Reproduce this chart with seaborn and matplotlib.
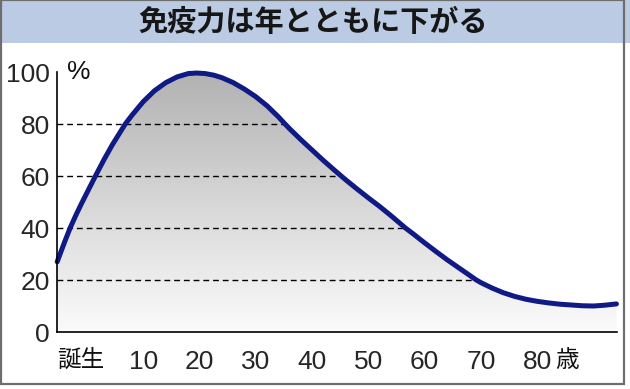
import numpy as np
import seaborn as sns
import matplotlib.pyplot as plt
from matplotlib import font_manager
from matplotlib.colors import LinearSegmentedColormap
from matplotlib.patches import Rectangle

# data (age in years, immunity in %)
ages = [-5.3, -4.0, -3.0, -2.0, -1.0, 0.0, 1.5, 3.0, 4.5, 6.8, 8.0, 10.0,
        12.0, 14.0, 16.0, 18.0, 19.5, 21.0, 22.5, 24.0, 26.0, 28.0, 30.0,
        32.0, 34.0, 35.2, 36.0, 38.0, 40.0, 42.0, 44.0, 46.0, 48.0, 50.0,
        52.0, 54.0, 56.6, 58.0, 60.0, 62.0, 64.0, 66.0, 68.0, 69.2, 70.0,
        72.0, 74.0, 76.0, 78.0, 80.0, 82.0, 84.0, 86.0, 88.0, 90.0, 92.0, 94.1]
immunity = [27.0, 34.5, 40.0, 44.8, 49.3, 53.6, 60.0, 66.2, 72.0, 80.0, 83.4, 88.6,
            92.8, 95.9, 98.1, 99.4, 99.6, 99.4, 98.8, 97.8, 95.9, 93.4, 90.5,
            87.0, 82.8, 80.0, 78.2, 74.0, 70.0, 66.0, 62.2, 58.5, 55.0, 51.6,
            48.3, 44.8, 40.0, 37.7, 34.3, 31.0, 27.8, 24.8, 21.8, 20.0, 19.0,
            16.9, 15.1, 13.7, 12.6, 11.8, 11.2, 10.7, 10.4, 10.1, 10.0, 10.3, 10.8]
x_ticks = [10, 20, 30, 40, 50, 60, 70, 80]
y_ticks = [0, 20, 40, 60, 80, 100]
grid_levels = [20, 40, 60, 80]
grid_ends = [69.2, 56.6, 45.3, 35.2]   # where each dashed line meets the curve
title = '免疫力は年とともに下がる'

sns.set_theme(style='white')
names = {f.name for f in font_manager.fontManager.ttflist}
num_font = 'Liberation Sans Narrow' if 'Liberation Sans Narrow' in names else 'Liberation Sans'
plt.rcParams['font.family'] = [num_font, 'Noto Sans CJK JP', 'DejaVu Sans']
jp = ['Noto Sans CJK JP', 'DejaVu Sans']

fig = plt.figure(figsize=(6.3, 3.89), dpi=100)
fig.patch.set_facecolor('white')

# title band and frame
fig.patches.append(Rectangle((0, 1 - 43 / 389), 1, 43 / 389, transform=fig.transFigure,
                             facecolor='#bccbe4', edgecolor='none', zorder=0))
fig.patches.append(Rectangle((1 / 630, 5 / 389), 623 / 630, 384 / 389, transform=fig.transFigure,
                             facecolor='none', edgecolor='#6e6e6e', lw=1.6, zorder=5))
fig.text(0.497, 1 - 22 / 389, title, ha='center', va='center', fontsize=21,
         family=jp, weight='bold', color='#161616')

xmin, xmax = -5.33, 94.2
ax = fig.add_axes([57 / 630, 57 / 389, 560 / 630, 260 / 389])
ax.set_facecolor('none')

# gradient fill under the curve
cmap = LinearSegmentedColormap.from_list('g', ['#fbfbfb', '#b2b2b2'])
grad = np.linspace(0, 1, 256).reshape(-1, 1)
im = ax.imshow(grad, extent=[xmin, xmax, 0, 100], origin='lower', cmap=cmap,
               aspect='auto', zorder=1)
poly = ax.fill_between(ages, immunity, 0, color='none', lw=0)
im.set_clip_path(poly.get_paths()[0], transform=ax.transData)

# dashed level lines
ax.hlines(grid_levels, xmin, grid_ends, colors='black', lw=1,
          linestyles=(0, (4.2, 2.8)), zorder=2)

sns.lineplot(x=ages, y=immunity, ax=ax, color='#101a84', lw=3.6, zorder=3)
ax.lines[-1].set_clip_on(False)
ax.lines[-1].set_solid_joinstyle('round')

ax.set_xlim(xmin, xmax)
ax.set_ylim(0, 100)
for s in ['top', 'right']:
    ax.spines[s].set_visible(False)
for s in ['left', 'bottom']:
    ax.spines[s].set_color('black')
    ax.spines[s].set_linewidth(1.2)
    ax.spines[s].set_zorder(4)

ax.set_xticks(x_ticks)
ax.set_xticklabels([str(t) for t in x_ticks])
ax.set_yticks(y_ticks)
ax.set_yticklabels([str(t) for t in y_ticks])
ax.tick_params(axis='x', direction='out', length=6, width=1.1, color='black',
               labelsize=19, pad=7)
ax.tick_params(axis='y', direction='in', length=4, width=1.1, color='black',
               labelsize=19, pad=5)
ax.set_xlabel('')
ax.set_ylabel('')

ax.text(xmin, -0.108, '誕生', transform=ax.get_xaxis_transform(), ha='left', va='center',
        fontsize=17, family=jp, color='#111111')
ax.text(85.4, -0.108, '歳', transform=ax.get_xaxis_transform(), ha='center', va='center',
        fontsize=17, family=jp, color='#111111')
ax.text(xmin + 1.8, 100, '%', ha='left', va='center', fontsize=19, color='#111111')

fig.savefig('out.png', dpi=100)
